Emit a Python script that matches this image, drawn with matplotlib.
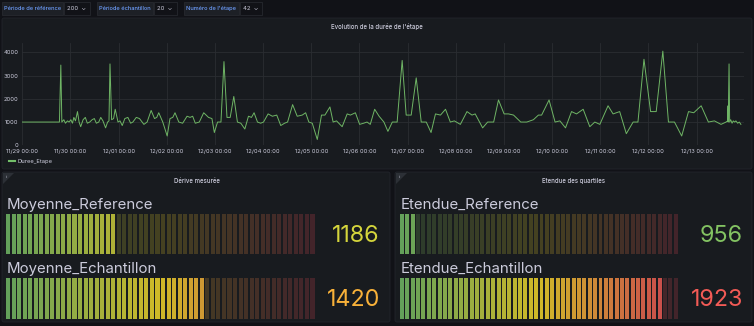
import numpy as np
import pandas as pd
import matplotlib
matplotlib.use('Agg')
import matplotlib.pyplot as plt
import matplotlib.dates as mdates
from matplotlib.patches import FancyBboxPatch, Polygon, Rectangle
from matplotlib.colors import LinearSegmentedColormap

W, H = 754, 326

# variables du tableau de bord
variables = ['Période de référence', 'Période échantillon', "Numéro de l'étape"]
valeurs_variables = ['200', '20', '42']

# série temporelle : heures depuis le 11/29 00:00 et durée de l'étape
heures = [0, 6, 12, 18.5,
          19.2, 19.7, 20.7, 21.5, 22.5, 23.3, 24.2, 25.0, 25.7, 26.5, 27.5, 28.3, 29.1,
          30.3, 31.4, 32.4, 33.6, 34.8, 35.9, 36.9, 38.1, 39.1, 40.2, 41.5, 42.5, 43.2,
          43.7, 44.5, 45.5, 46.3, 47.7, 48.7, 49.8, 51.1, 52.6, 54.0, 55.1, 56.8, 58.4,
          60.6, 62.2, 64.2, 65.9, 67.0, 68.0, 70.0, 72.2, 73.6, 75.0, 76.1, 78.0, 79.9,
          82.1, 83.6, 84.9, 86.2, 88.2, 90.4, 92.8, 94.5, 95.7, 97.3, 99.0, 100.5, 102.0,
          103.6, 105.4, 107.2, 108.9, 110.9, 112.7, 114.2, 115.5, 117.2, 118.8, 120.2,
          122.5, 124.6, 126.8, 128.8, 130.7, 132.2, 134.7, 137.0, 139.5, 141.2, 142.8,
          144.5, 147.0, 149.1, 150.8, 153.3, 154.9, 156.6, 159.4, 161.9, 163.5, 166.0,
          168.1, 170.1, 171.8, 173.4, 175.6,
          177.8, 180.2, 182.2, 184.4, 186.8, 189.3, 191.3, 193.8, 196.3, 198.8, 201.3,
          203.7, 205.9, 208.4, 210.9, 213.3, 215.3, 218.3, 221.6, 224.1, 225.7, 229.4,
          231.9, 234.9, 237.3, 240.1, 242.3, 244.8, 248.4, 251.4, 254.7, 257.2, 258.8,
          262.5, 265.5, 267.9, 270.7, 273.7, 276.2, 279.5, 282.8, 285.3, 287.8, 291.9,
          294.4, 297.7, 301.0, 304.4, 306.8, 309.8, 313.1, 315.9, 319.2, 322.0, 325.0,
          328.6, 332.0, 334.6, 338.3, 341.9, 344.9, 348.2, 350.7, 351.5, 351.7, 351.8,
          352.2, 352.5, 353.0, 353.7, 354.3, 355.0, 355.6, 356.5, 357.3, 358.1]
duree = [1000, 1000, 1000, 1000,
         3450, 1000, 1100, 950, 1050, 1000, 1100, 950, 1200, 1050, 1450, 1000, 800,
         1100, 1200, 950, 1000, 1100, 1150, 950, 1000, 1200, 1050, 750, 1000, 1050,
         3500, 1100, 1150, 1550, 1000, 1050, 850, 1150, 1200, 950, 1000, 1200, 1150,
         900, 1000, 1500, 1150, 1200, 1400, 1000, 400, 1150, 1200, 1400, 1000, 950,
         1250, 1200, 1250, 950, 1000, 1400, 1200, 1150, 550, 1000, 1000, 3600, 1200,
         1200, 2100, 1000, 950, 700, 1250, 1200, 1400, 1000, 950, 1000,
         1350, 1250, 1300, 850, 950, 1000, 1750, 1250, 1300, 1400, 1000,
         950, 250, 1300, 1300, 1650, 1000, 1050, 800, 1350, 1300, 1400,
         900, 950, 1000, 900, 1550,
         1250, 1000, 600, 1000, 1000, 3650, 1300, 1300, 2900, 1000, 1000,
         550, 1350, 1300, 1550, 1000, 1050, 900, 1450, 1300, 1350, 750,
         1000, 1000, 1950, 1350, 1350, 1300, 1000, 1000, 1100, 1300, 1300,
         1950, 1000, 1050, 750, 1450, 1350, 1550, 800, 1000, 900, 1700,
         1350, 1450, 500, 1000, 1000, 3700, 1450, 1450, 4050, 1000, 1000,
         400, 1450, 1400, 1700, 1000, 1050, 900, 1000, 1050, 1700, 1000,
         3500, 1000, 1100, 950, 1050, 1000, 1050, 950, 1000, 900]
assert len(heures) == len(duree)

# jauges
mesures_derive = ['Moyenne_Reference', 'Moyenne_Echantillon']
valeurs_derive = [1186, 1420]
plage_derive = (895, 1702)
mesures_quartiles = ['Etendue_Reference', 'Etendue_Echantillon']
valeurs_quartiles = [956, 1923]
plage_quartiles = (890, 1989)

FONT = ['Inter', 'DejaVu Sans']
plt.rcParams['font.family'] = FONT
TXT = '#ccccdc'
BG = '#111217'
PANEL = '#181b1f'
cmap = LinearSegmentedColormap.from_list('GrYlRd', ['#73BF69', '#FADE2A', '#F2495C'])


def px(x0, y0, x1, y1):
    return [x0 / W, 1 - y1 / H, (x1 - x0) / W, (y1 - y0) / H]


fig = plt.figure(figsize=(W / 100, H / 100), dpi=100, facecolor=BG)
bg = fig.add_axes([0, 0, 1, 1], zorder=0)
bg.set_xlim(0, W)
bg.set_ylim(H, 0)
bg.axis('off')


def panel(x0, y0, x1, y1):
    bg.add_patch(FancyBboxPatch((x0, y0), x1 - x0, y1 - y0,
                                boxstyle='round,pad=0,rounding_size=2',
                                fc=PANEL, ec='#22252b', lw=0.6))


# barre des variables
boxes = [(2, 63, 90), (97, 153, 177), (184, 239, 262)]
for (a, b, c), lab, val in zip(boxes, variables, valeurs_variables):
    bg.add_patch(Rectangle((a, 2), b - a, 13, fc='#1d2026', ec='#2a2d33', lw=0.5))
    bg.add_patch(Rectangle((b + 1, 2), c - b - 1, 13, fc=BG, ec='#2a2d33', lw=0.5))
    bg.text((a + b) / 2, 8.7, lab, color='#6e9fff', fontsize=4.1,
            ha='center', va='center', fontweight='medium')
    bg.text(b + 4, 8.7, val + '  \u2304', color=TXT, fontsize=4.3, ha='left', va='center')

# panneaux
panel(2, 18, 752, 169)
panel(2, 172, 390, 322)
panel(395, 172, 752, 322)
bg.text(377, 27, "Evolution de la durée de l'étape", color=TXT, fontsize=4.4,
        ha='center', va='center', fontweight='medium')
bg.text(197, 181, 'Dérive mesurée', color=TXT, fontsize=4.4,
        ha='center', va='center', fontweight='medium')
bg.text(574, 181, 'Etendue des quartiles', color=TXT, fontsize=4.4,
        ha='center', va='center', fontweight='medium')
for x0 in (2, 395):
    bg.add_patch(Polygon([(x0 + 1, 173), (x0 + 12, 173), (x0 + 1, 184)],
                         closed=True, fc='#2c3036', ec='none'))
    bg.text(x0 + 4, 176.5, 'i', color=TXT, fontsize=3, ha='center', va='center')

# série temporelle
t0 = pd.Timestamp('2022-11-29')
temps = t0 + pd.to_timedelta(heures, unit='h')
ax = fig.add_axes(px(22.3, 43, 743.7, 145.3), zorder=2)
ax.set_facecolor('none')
ax.plot(temps, duree, color='#6fb565', lw=0.7)
ax.set_xlim(t0, t0 + pd.Timedelta(hours=359.5))
ax.set_ylim(0, 4400)
ax.set_yticks([0, 1000, 2000, 3000, 4000])
ax.xaxis.set_major_locator(mdates.DayLocator())
ax.xaxis.set_major_formatter(mdates.DateFormatter('%m/%d %H:%M'))
ax.grid(True, color='#2a2d32', lw=0.6)
ax.set_axisbelow(True)
for s in ax.spines.values():
    s.set_visible(False)
ax.tick_params(length=0, labelsize=4.2, colors=TXT)
ax.tick_params(axis='y', pad=3)
ax.tick_params(axis='x', pad=2.5)

# légende
bg.plot([9, 15], [161, 161], color='#73BF69', lw=1.5)
bg.text(18, 161, 'Duree_Etape', color=TXT, fontsize=4.2, ha='left', va='center')


def gauge(x0, x1, y0, y1, value, plage, ncells):
    vmin, vmax = plage
    g = fig.add_axes(px(x0, y0, x1, y1), zorder=2)
    g.set_xlim(vmin, vmax)
    g.set_ylim(0, 1)
    g.axis('off')
    edges = np.linspace(vmin, vmax, ncells + 1)
    step = edges[1] - edges[0]
    centers = edges[:-1] + step / 2
    cols = cmap((centers - vmin) / (vmax - vmin))
    lit = centers <= value
    cols[:, 3] = np.where(lit, 0.82, 0.2)
    g.bar(edges[:-1], 1, width=step * 0.74, align='edge', color=cols, lw=0)
    return cmap((value - vmin) / (vmax - vmin))


rows = [(208.5, 214, 254, 242), (272.5, 278, 319, 305.5)]
for (lab_y, b0, b1, val_y), lab, val in zip(rows, mesures_derive, valeurs_derive):
    c = gauge(6, 316, b0, b1, val, plage_derive, 56)
    bg.text(7, lab_y, lab, color=TXT, fontsize=10.8, ha='left', va='baseline')
    bg.text(380, val_y, str(val), color=c, fontsize=16.8, ha='right', va='baseline')
for (lab_y, b0, b1, val_y), lab, val in zip(rows, mesures_quartiles, valeurs_quartiles):
    c = gauge(400, 679, b0, b1, val, plage_quartiles, 52)
    bg.text(401, lab_y, lab, color=TXT, fontsize=10.8, ha='left', va='baseline')
    bg.text(743, val_y, str(val), color=c, fontsize=16.8, ha='right', va='baseline')

fig.savefig('out.png', dpi=100, facecolor=BG)
